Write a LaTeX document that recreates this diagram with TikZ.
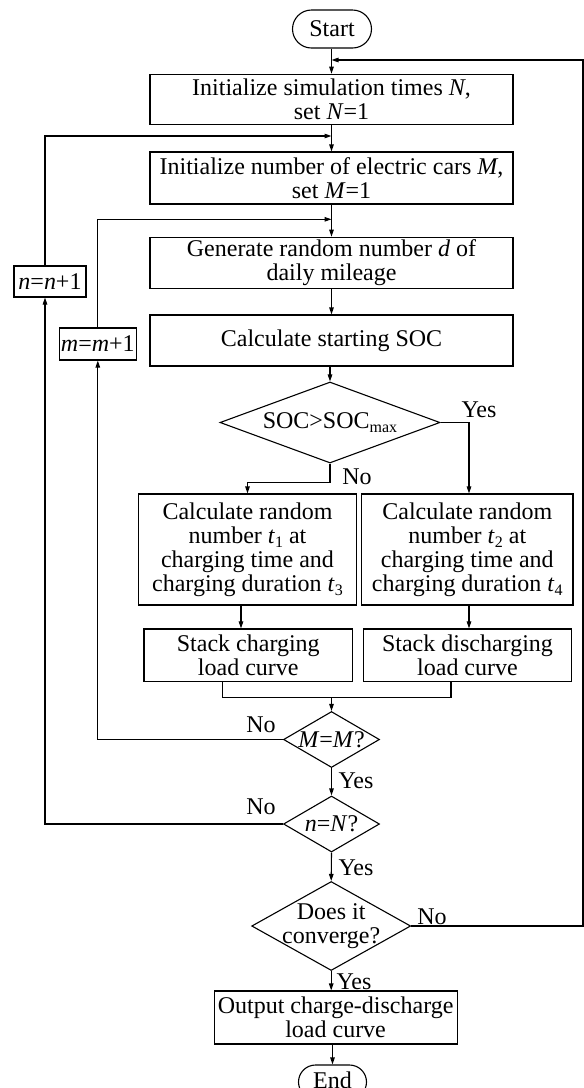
\documentclass[tikz,border=0pt]{standalone}
\usepackage{fontspec}
\setmainfont{Liberation Serif}
\usetikzlibrary{shapes.geometric,arrows.meta,calc}
\newcommand{\sbs}[1]{\raisebox{-0.35ex}{\fontsize{16}{16}\selectfont #1}}
\begin{document}
\begin{tikzpicture}[x=1pt,y=-1pt,line width=1.1pt,
  every node/.style={font=\fontsize{24}{24}\selectfont, inner sep=0pt, align=center},
  box/.style={draw, rectangle},
  dia/.style={draw, diamond, aspect=2},
  term/.style={draw, rectangle, rounded corners=17pt},
  arr/.style={-{Triangle[length=7pt,width=4.5pt]}}]
\useasboundingbox (0,0) rectangle (584,1088);

% main column
\node[term, rounded corners=19pt, minimum width=79pt, minimum height=38pt] (start) at (332,29) {Start};
\node[box, minimum width=363pt, minimum height=50.5pt] (b1) at (331.5,99.5) {Initialize simulation times \textit{N},\\ set \textit{N}=1};
\node[box, minimum width=363pt, minimum height=52pt] (b2) at (331.5,178) {Initialize number of electric cars \textit{M},\\ set \textit{M}=1};
\node[box, minimum width=363pt, minimum height=51.5pt] (b3) at (331.5,263) {Generate random number \textit{d} of\\ daily mileage};
\node[box, minimum width=363pt, minimum height=51pt] (b4) at (331.5,340.5) {Calculate starting SOC};
\node[dia, minimum width=220pt, minimum height=81pt, label={center:SOC>SOC\sbs{max}}] (d1) at (330,422.5) {};

\node[box, minimum width=218.4pt, minimum height=111pt] (bl) at (247.5,549.5) {Calculate random\\ number \textit{t}\sbs{1} at\\ charging time and\\ charging duration \textit{t}\sbs{3}};
\node[box, minimum width=211.3pt, minimum height=111pt] (br) at (467.3,549.5) {Calculate random\\ number \textit{t}\sbs{2} at\\ charging time and\\ charging duration \textit{t}\sbs{4}};
\node[box, minimum width=208.7pt, minimum height=52.7pt] (sl) at (248.3,655.3) {Stack charging\\ load curve};
\node[box, minimum width=208.4pt, minimum height=52.7pt] (sr) at (467.5,655.3) {Stack discharging\\ load curve};

\node[dia, minimum width=96pt, minimum height=56pt, label={center:\textit{M}=\textit{M}?}] (d2) at (331.5,739.5) {};
\node[dia, minimum width=96pt, minimum height=56pt, label={center:\textit{n}=\textit{N}?}] (d3) at (331.5,824) {};
\node[dia, minimum width=159pt, minimum height=89pt, label={[align=center]center:Does it\\ converge?}] (d4) at (331.2,926) {};
\node[box, minimum width=243pt, minimum height=53pt] (out) at (335.6,1017.5) {Output charge-discharge\\ load curve};
\node[term, minimum width=68pt, minimum height=34pt] (endn) at (332.5,1082) {\raisebox{3pt}{End}};

% loop counters
\node[box, minimum width=72pt, minimum height=31pt] (nb) at (50,281.5) {\textit{n}=\textit{n}+1};
\node[box, minimum width=77pt, minimum height=32pt] (mb) at (97.8,344) {\textit{m}=\textit{m}+1};

% labels
\node at (479,410) {Yes};
\node at (357,477) {No};
\node at (261,725) {No};
\node at (356,781) {Yes};
\node at (261,807) {No};
\node at (356,868) {Yes};
\node at (432,917) {No};
\node at (354,982) {Yes};

% helper coordinates
\coordinate (j0) at (331.5,60);
\coordinate (j1) at (331.5,136);
\coordinate (j2) at (331.5,219.3);
\coordinate (nx) at (45,0);
\coordinate (rx) at (583,0);
\coordinate (cl) at (241,0);
\coordinate (cr) at (469,0);
\coordinate (ml) at (222.7,0);
\coordinate (mr) at (451,0);
\coordinate (mj) at (331.5,697.3);

% connectors
\draw[arr] (start.south -| j0) -- (b1.north -| j0);
\draw[arr] (b1.south -| j1) -- (b2.north -| j1);
\draw[arr] (b2.south -| j2) -- (b3.north -| j2);
\draw[arr] (b3.south) -- (b4.north);
\draw[arr] (b4.south -| d1.north) -- (d1.north);
\draw[arr] (d1.east) -| (cr |- br.north);
\draw[arr] (d1.south) -- ++(0,19) -| (bl.north);
\draw[arr] (cl |- bl.south) -- (cl |- sl.north);
\draw[arr] (cr |- br.south) -- (cr |- sr.north);
\draw (ml |- sl.south) |- (mr |- mj) -- (mr |- sr.south);
\draw[arr] (mj) -- (d2.north);
\draw[arr] (d2.south) -- (d3.north);
\draw[arr] (d3.south) -- (d4.north);
\draw[arr] (d4.south) -- (d4.south |- out.north);
\draw[arr] (out.south -| endn.north) -- (endn.north);

\draw[arr] (d2.west) -| (mb.south);
\draw[arr] (mb.north) |- (j2);
\draw[arr] (d3.west) -| (nx |- nb.south);
\draw[arr] (nx |- nb.north) |- (j1);
\draw[arr] (d4.east) -| (rx |- j0) -- (j0);
\end{tikzpicture}
\end{document}
